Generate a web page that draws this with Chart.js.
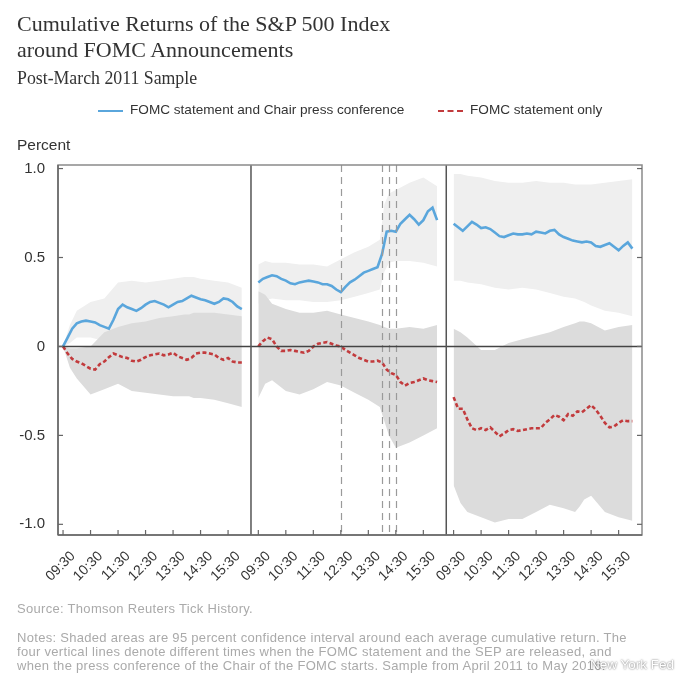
<!DOCTYPE html>
<html><head><meta charset="utf-8">
<script src="https://cdn.jsdelivr.net/npm/chart.js@4.4.0/dist/chart.umd.min.js"></script>
<style>
html,body{margin:0;padding:0;background:#fff;}
body{width:700px;height:699px;overflow:hidden;position:relative;font-family:"Liberation Sans",Arial,sans-serif;}
#c{position:absolute;left:0;top:0;}
.t{position:absolute;white-space:nowrap;}
#title{left:17px;top:11px;font-family:"Liberation Serif",serif;font-size:22px;line-height:26px;color:#333;}
#sub{left:17px;top:68px;font-family:"Liberation Serif",serif;font-size:17.8px;color:#333;}
#leg{left:0;top:102px;width:700px;font-size:13.6px;color:#333;}
#percent{left:17px;top:136px;font-size:15.5px;color:#333;}
#src{left:17px;top:601px;font-size:13px;letter-spacing:0.3px;color:#aaa;}
#notes{left:17px;top:631px;font-size:13px;letter-spacing:0.3px;line-height:14px;color:#aaa;}
#nyf{left:590px;top:657px;font-size:13.5px;color:#fff;text-shadow:0 0 2px rgba(0,0,0,0.7);}
.sw{position:absolute;top:8px;width:25px;height:0;}
</style></head>
<body>
<canvas id="c" width="700" height="699"></canvas>
<div class="t" id="title">Cumulative Returns of the S&amp;P 500 Index<br>around FOMC Announcements</div>
<div class="t" id="sub">Post-March 2011 Sample</div>
<div class="t" id="leg">
  <span class="sw" style="left:98px;border-top:2.5px solid #5aa6dc;"></span>
  <span class="t" style="left:130px;top:0;">FOMC statement and Chair press conference</span>
  <span class="sw" style="left:438px;border-top:2.5px dashed #c23b3d;"></span>
  <span class="t" style="left:470px;top:0;">FOMC statement only</span>
</div>
<div class="t" id="percent">Percent</div>
<div class="t" id="src">Source: Thomson Reuters Tick History.</div>
<div class="t" id="notes">Notes: Shaded areas are 95 percent confidence interval around each average cumulative return. The<br>four vertical lines denote different times when the FOMC statement and the SEP are released, and<br>when the press conference of the Chair of the FOMC starts. Sample from April 2011 to May 2016.</div>
<div class="t" id="nyf">New York Fed</div>
<script>
// ---- Data ----
// minutes after 09:30 for line observations
const lineMinutes = [0,10,20,30,40,50,60,70,80,90,100,110,120,130,140,150,160,170,180,190,200,210,220,230,240,250,260,270,280,290,300,310,320,330,340,350,360,370,380,390];
// minutes after 09:30 for confidence band observations
const bandMinutes = [0,15,30,60,90,120,150,180,210,240,265,275,285,300,330,360,390];

// Panel 1: day before
const blue1 = [0.0,0.05,0.10,0.13,0.14,0.145,0.14,0.135,0.12,0.11,0.10,0.15,0.21,0.235,0.22,0.21,0.20,0.215,0.235,0.25,0.255,0.245,0.235,0.22,0.235,0.25,0.255,0.27,0.285,0.275,0.265,0.26,0.25,0.24,0.25,0.27,0.265,0.25,0.225,0.21];
const red1 = [0,-0.04,-0.07,-0.085,-0.095,-0.11,-0.125,-0.13,-0.10,-0.085,-0.06,-0.04,-0.05,-0.06,-0.065,-0.08,-0.085,-0.075,-0.06,-0.05,-0.045,-0.04,-0.05,-0.045,-0.035,-0.055,-0.065,-0.075,-0.065,-0.04,-0.035,-0.035,-0.04,-0.045,-0.065,-0.075,-0.065,-0.085,-0.09,-0.09];
const blueUp1 = [0.0,0.12,0.20,0.25,0.27,0.36,0.37,0.36,0.37,0.38,0.39,0.39,0.39,0.38,0.37,0.36,0.33];
const blueLo1 = [0.0,0.02,0.05,0.05,0.03,0.09,0.08,0.10,0.11,0.12,0.13,0.13,0.13,0.13,0.12,0.10,0.09];
const redUp1 = [0.0,-0.01,-0.01,0.0,0.08,0.11,0.13,0.14,0.16,0.17,0.18,0.18,0.19,0.19,0.19,0.18,0.17];
const redLo1 = [0.0,-0.12,-0.18,-0.27,-0.24,-0.21,-0.25,-0.26,-0.27,-0.28,-0.28,-0.28,-0.29,-0.29,-0.30,-0.32,-0.34];

// Panel 2: announcement day
const blue2 = [0.36,0.38,0.39,0.40,0.395,0.38,0.37,0.355,0.35,0.36,0.365,0.37,0.365,0.36,0.35,0.35,0.34,0.32,0.305,0.335,0.36,0.375,0.395,0.415,0.425,0.435,0.445,0.52,0.645,0.65,0.645,0.69,0.715,0.74,0.715,0.685,0.71,0.76,0.78,0.71];
const red2 = [0.0,0.03,0.05,0.04,0.0,-0.025,-0.025,-0.02,-0.025,-0.03,-0.035,-0.025,0.0,0.015,0.02,0.025,0.015,0.005,0.0,-0.02,-0.035,-0.05,-0.065,-0.075,-0.085,-0.085,-0.08,-0.09,-0.13,-0.15,-0.16,-0.2,-0.22,-0.205,-0.2,-0.19,-0.18,-0.19,-0.195,-0.2];
const blueUp2 = [0.46,0.48,0.47,0.47,0.46,0.46,0.45,0.49,0.53,0.56,0.60,0.80,0.86,0.88,0.92,0.95,0.90];
const blueLo2 = [0.24,0.26,0.27,0.26,0.26,0.25,0.25,0.26,0.28,0.30,0.32,0.42,0.47,0.48,0.48,0.47,0.45];
const redUp2 = [0.31,0.29,0.24,0.21,0.19,0.19,0.20,0.18,0.16,0.14,0.12,0.11,0.10,0.10,0.11,0.10,0.12];
const redLo2 = [-0.29,-0.21,-0.19,-0.25,-0.27,-0.24,-0.20,-0.22,-0.26,-0.30,-0.34,-0.42,-0.50,-0.57,-0.54,-0.50,-0.46];

// Panel 3: day after
const blue3 = [0.69,0.67,0.65,0.675,0.70,0.685,0.665,0.67,0.66,0.64,0.62,0.615,0.625,0.635,0.63,0.63,0.635,0.63,0.645,0.64,0.635,0.65,0.655,0.63,0.615,0.605,0.595,0.59,0.585,0.59,0.585,0.565,0.56,0.57,0.58,0.56,0.54,0.565,0.585,0.55];
const red3 = [-0.285,-0.35,-0.35,-0.41,-0.46,-0.47,-0.46,-0.47,-0.455,-0.48,-0.505,-0.49,-0.47,-0.465,-0.475,-0.47,-0.465,-0.46,-0.46,-0.46,-0.43,-0.41,-0.385,-0.395,-0.415,-0.38,-0.39,-0.365,-0.37,-0.35,-0.33,-0.355,-0.39,-0.43,-0.455,-0.45,-0.43,-0.415,-0.42,-0.42];
const blueUp3 = [0.97,0.97,0.96,0.95,0.93,0.92,0.92,0.93,0.92,0.92,0.91,0.91,0.91,0.91,0.92,0.93,0.94];
const blueLo3 = [0.37,0.37,0.36,0.35,0.33,0.32,0.33,0.32,0.30,0.28,0.27,0.26,0.25,0.23,0.20,0.19,0.17];
const redUp3 = [0.10,0.08,0.05,-0.02,-0.02,0.02,0.04,0.06,0.08,0.11,0.13,0.14,0.14,0.13,0.09,0.11,0.12];
const redLo3 = [-0.78,-0.88,-0.93,-0.96,-0.99,-0.97,-0.97,-0.93,-0.89,-0.91,-0.93,-0.90,-0.86,-0.84,-0.93,-0.96,-0.98];

const xTickLabels = ['09:30','10:30','11:30','12:30','13:30','14:30','15:30'];
const xTickMinutes = [0,60,120,180,240,300,360];
const yTickValues = [-1.0,-0.5,0,0.5,1.0];
const yTickLabels = ['-1.0','-0.5','0','0.5','1.0'];
// event times on announcement day (minutes after 09:30): 12:30, 14:00, 14:15, 14:30
const eventMinutes = [180,270,285,300];

// ---- Layout helpers (not data) ----
const DAY = 426;            // horizontal span given to each trading day on the axis, minutes
const dayOffsets = [0, DAY, 2*DAY];
const dayBreaks = [DAY-16, 2*DAY-16];

const panels = [
  {blue:blue1, red:red1, bu:blueUp1, bl:blueLo1, ru:redUp1, rl:redLo1},
  {blue:blue2, red:red2, bu:blueUp2, bl:blueLo2, ru:redUp2, rl:redLo2},
  {blue:blue3, red:red3, bu:blueUp3, bl:blueLo3, ru:redUp3, rl:redLo3}
];
const pts = (mins, vals, off) => mins.map((m,i)=>({x:off+m, y:vals[i]}));

const BLUE='#5aa6dc', RED='#c23b3d', LIGHT='#efefef', DARK='#dcdcdc';
const datasets = [];
panels.forEach((p,i)=>{
  const off = dayOffsets[i];
  datasets.push({data:pts(lineMinutes,p.blue,off), borderColor:BLUE, borderWidth:2.6, pointRadius:0, fill:false, order:0});
  datasets.push({data:pts(lineMinutes,p.red,off), borderColor:RED, borderWidth:2.6, borderDash:[4,2.5], pointRadius:0, fill:false, order:0});
  datasets.push({data:pts(bandMinutes,p.ru,off), borderColor:'rgba(0,0,0,0)', borderWidth:0, pointRadius:0, backgroundColor:DARK, fill:'+1', order:1});
  datasets.push({data:pts(bandMinutes,p.rl,off), borderColor:'rgba(0,0,0,0)', borderWidth:0, pointRadius:0, fill:false, order:1});
  datasets.push({data:pts(bandMinutes,p.bu,off), borderColor:'rgba(0,0,0,0)', borderWidth:0, pointRadius:0, backgroundColor:LIGHT, fill:'+1', order:2});
  datasets.push({data:pts(bandMinutes,p.bl,off), borderColor:'rgba(0,0,0,0)', borderWidth:0, pointRadius:0, fill:false, order:2});
});

const xTickVals = [];
const xTickText = {};
dayOffsets.forEach(off=>xTickMinutes.forEach((m,j)=>{xTickVals.push(off+m); xTickText[off+m]=xTickLabels[j];}));

const overlay = {
  id:'overlay',
  afterDatasetsDraw(chart){
    const {ctx, chartArea:a, scales:{x,y}} = chart;
    const line=(x1,y1,x2,y2)=>{ctx.beginPath();ctx.moveTo(x1,y1);ctx.lineTo(x2,y2);ctx.stroke();};
    ctx.save();
    // dashed event lines
    ctx.setLineDash([7,5]); ctx.strokeStyle='#9a9a9a'; ctx.lineWidth=1.2;
    eventMinutes.forEach(m=>{const px=Math.round(x.getPixelForValue(DAY+m))+0.5; line(px,a.top,px,a.bottom);});
    ctx.setLineDash([]);
    // zero line
    ctx.strokeStyle='#444'; ctx.lineWidth=1.5;
    const y0=y.getPixelForValue(0); line(a.left,y0,a.right,y0);
    // day separators
    ctx.strokeStyle='#555';
    dayBreaks.forEach(m=>{const px=x.getPixelForValue(m); line(px,a.top,px,a.bottom);});
    // frame
    ctx.strokeStyle='#8a8a8a'; ctx.lineWidth=1.5;
    ctx.strokeRect(a.left,a.top,a.right-a.left,a.bottom-a.top);
    ctx.strokeStyle='#666';
    line(a.left,a.top,a.left,a.bottom); line(a.left,a.bottom,a.right,a.bottom);
    // inner ticks
    ctx.lineWidth=1.2;
    x.ticks.forEach(t=>{const px=x.getPixelForValue(t.value); line(px,a.bottom,px,a.bottom-5);});
    y.ticks.forEach(t=>{const py=y.getPixelForValue(t.value); line(a.left,py,a.left+5,py); line(a.right,py,a.right-5,py);});
    ctx.restore();
  }
};

new Chart(document.getElementById('c'), {
  type:'line',
  data:{datasets},
  options:{
    responsive:false, animation:false,
    layout:{padding:{top:165,left:0,right:58,bottom:104}},
    plugins:{legend:{display:false}, tooltip:{enabled:false}},
    scales:{
      x:{type:'linear', min:-11, max:1263,
        grid:{display:false}, border:{display:false},
        afterBuildTicks:s=>{s.ticks=xTickVals.map(v=>({value:v}));},
        afterFit:s=>{s.height=60;},
        ticks:{autoSkip:false, minRotation:45, maxRotation:45, padding:5, labelOffset:10, color:'#333',
          font:{family:'"Liberation Sans", Arial, sans-serif', size:14},
          callback:v=>xTickText[v]}
      },
      y:{min:-1.06, max:1.02,
        grid:{display:false, drawTicks:false}, border:{display:false},
        afterBuildTicks:s=>{s.ticks=yTickValues.map(v=>({value:v}));},
        afterFit:s=>{s.width=58;},
        ticks:{padding:13, color:'#333',
          font:{family:'"Liberation Sans", Arial, sans-serif', size:15},
          callback:(v)=>yTickLabels[yTickValues.indexOf(v)]}
      }
    }
  },
  plugins:[overlay]
});
</script>
</body></html>
